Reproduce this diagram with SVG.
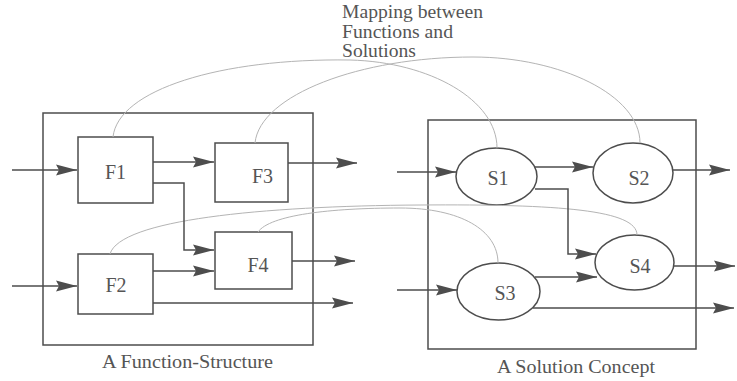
<svg xmlns="http://www.w3.org/2000/svg" width="737" height="381" viewBox="0 0 737 381">
<style>
.box{fill:none;stroke:#4d4d4d;stroke-width:1.5}
.node{fill:none;stroke:#4d4d4d;stroke-width:1.5}
.edge{fill:none;stroke:#4d4d4d;stroke-width:1.5}
.map{fill:none;stroke:#b4b4b4;stroke-width:1}
.lbl{font-family:"Liberation Serif","Times New Roman",serif;font-size:19px;fill:#555}
.nl{font-family:"Liberation Serif","Times New Roman",serif;font-size:20px;fill:#555}
</style>
<defs>
<marker id="ah" markerWidth="22" markerHeight="12" refX="21" refY="6" orient="auto" markerUnits="userSpaceOnUse">
<path d="M0,0.5 L21,6 L0,11.5 L3,6 z" fill="#4d4d4d"/>
</marker>
</defs>
<rect width="737" height="381" fill="#fff"/>
<text class="lbl" x="342" y="18" textLength="141" lengthAdjust="spacingAndGlyphs">Mapping between</text>
<text class="lbl" x="342" y="37.5" textLength="111" lengthAdjust="spacingAndGlyphs">Functions and</text>
<text class="lbl" x="342" y="57" textLength="74" lengthAdjust="spacingAndGlyphs">Solutions</text>
<g id="function-structure">
<rect class="box" x="43" y="113" width="270" height="232"/>
<text class="lbl" x="102" y="368" textLength="171" lengthAdjust="spacingAndGlyphs">A Function-Structure</text>
</g>
<g id="solution-concept">
<rect class="box" x="428" y="120" width="268" height="229"/>
<text class="lbl" x="497" y="373" textLength="158" lengthAdjust="spacingAndGlyphs">A Solution Concept</text>
</g>
<g id="F1"><rect class="node" x="78" y="137" width="75" height="66"/><text class="nl" x="115.5" y="179" text-anchor="middle">F1</text></g>
<g id="F3"><rect class="node" x="215" y="143" width="73" height="59"/><text class="nl" x="262.5" y="183" text-anchor="middle">F3</text></g>
<g id="F2"><rect class="node" x="78" y="254" width="75" height="60"/><text class="nl" x="116" y="292" text-anchor="middle">F2</text></g>
<g id="F4"><rect class="node" x="215" y="232" width="77" height="57"/><text class="nl" x="258" y="272" text-anchor="middle">F4</text></g>
<g id="S1"><ellipse class="node" cx="496.5" cy="176.5" rx="40.5" ry="28.5"/><text class="nl" x="498" y="185" text-anchor="middle">S1</text></g>
<g id="S2"><ellipse class="node" cx="633" cy="173" rx="40" ry="30"/><text class="nl" x="639" y="185" text-anchor="middle">S2</text></g>
<g id="S3"><ellipse class="node" cx="498.5" cy="291.5" rx="41.5" ry="28.5"/><text class="nl" x="505" y="300" text-anchor="middle">S3</text></g>
<g id="S4"><ellipse class="node" cx="634.5" cy="262.5" rx="39.5" ry="27.5"/><text class="nl" x="640" y="273" text-anchor="middle">S4</text></g>
<g id="connectors">
<path class="map" d="M113,137 C118,90 220,58 350,60 C430,62 497,100 497,148"/>
<path class="map" d="M255,143 C260,95 360,57 473,57 C560,57 640,95 640,143"/>
<path class="map" d="M110,254 C120,220 260,206 420,205 C560,204 637,210 637,235"/>
<path class="map" d="M258,232 C270,215 330,208 400,208 C460,208 498,230 498,263"/>
<line class="edge" x1="12" y1="170" x2="77" y2="170" marker-end="url(#ah)"/>
<line class="edge" x1="153" y1="162" x2="214" y2="162" marker-end="url(#ah)"/>
<polyline class="edge" points="153,183 184,183 184,250 214,250" marker-end="url(#ah)"/>
<line class="edge" x1="288" y1="163" x2="357" y2="163" marker-end="url(#ah)"/>
<line class="edge" x1="12" y1="286" x2="77" y2="286" marker-end="url(#ah)"/>
<line class="edge" x1="153" y1="271" x2="214" y2="271" marker-end="url(#ah)"/>
<line class="edge" x1="153" y1="303" x2="353" y2="303" marker-end="url(#ah)"/>
<line class="edge" x1="292" y1="261" x2="355" y2="261" marker-end="url(#ah)"/>
<line class="edge" x1="397" y1="172" x2="456" y2="172" marker-end="url(#ah)"/>
<line class="edge" x1="535" y1="167" x2="593" y2="167" marker-end="url(#ah)"/>
<polyline class="edge" points="535,189 568,189 568,254 596,254" marker-end="url(#ah)"/>
<line class="edge" x1="673" y1="170" x2="730" y2="170" marker-end="url(#ah)"/>
<line class="edge" x1="397" y1="290" x2="457" y2="290" marker-end="url(#ah)"/>
<line class="edge" x1="535" y1="277" x2="597" y2="277" marker-end="url(#ah)"/>
<line class="edge" x1="533" y1="308" x2="734" y2="308" marker-end="url(#ah)"/>
<line class="edge" x1="674" y1="266" x2="735" y2="266" marker-end="url(#ah)"/>
</g>
</svg>
